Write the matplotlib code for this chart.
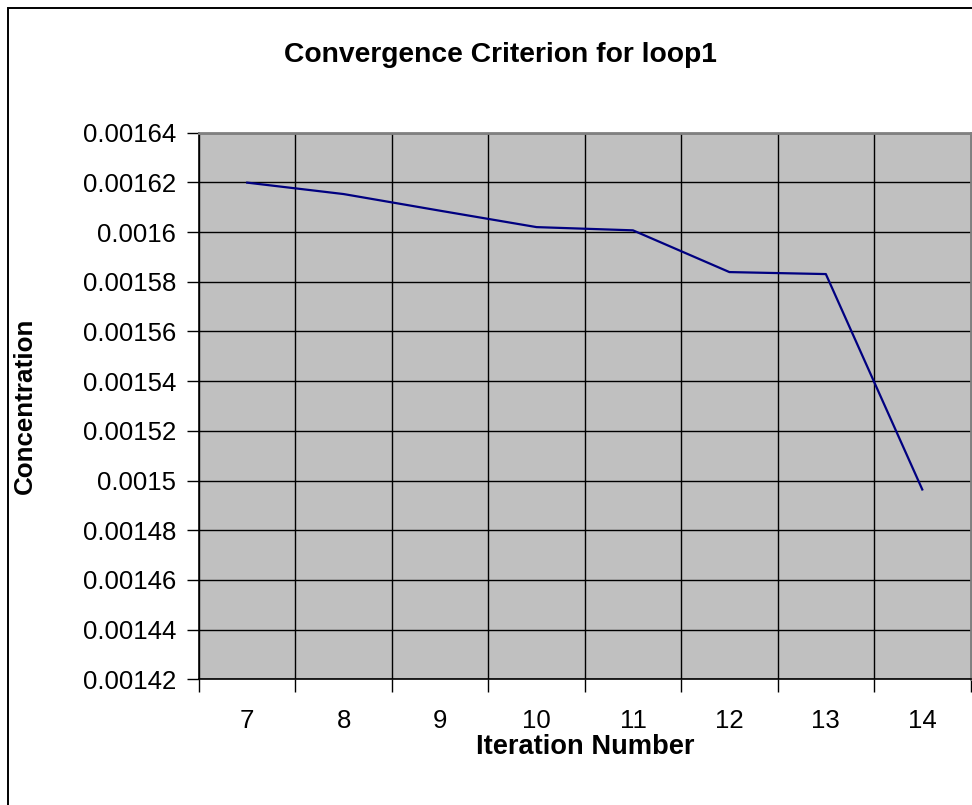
import matplotlib
matplotlib.use("Agg")
import matplotlib.pyplot as plt
from matplotlib.patches import Rectangle
from matplotlib.ticker import FixedLocator, FuncFormatter, NullFormatter

# Convergence history of the loop1 iteration
iterations = [7, 8, 9, 10, 11, 12, 13, 14]
concentration = [0.0016199, 0.0016153, 0.0016086, 0.0016020,
                  0.0016007, 0.0015839, 0.0015831, 0.0014964]
y_ticks = [0.00142, 0.00144, 0.00146, 0.00148, 0.0015, 0.00152,
           0.00154, 0.00156, 0.00158, 0.0016, 0.00162, 0.00164]

plt.rcParams['font.family'] = ['Liberation Sans', 'DejaVu Sans']

W, H = 972, 805
fig = plt.figure(figsize=(W / 100, H / 100), dpi=100)
fig.patch.set_facecolor('white')

# chart-area frame
fig.add_artist(Rectangle((8 / W, -0.5), 2.0, 1.5 - 8 / H,
                         transform=fig.transFigure, fill=False,
                         edgecolor='black', linewidth=1.4))

left, right, top, bottom = 199, 970.5, 132.7, 679.3
ax = fig.add_axes([left / W, 1 - bottom / H, (right - left) / W, (bottom - top) / H])
ax.set_facecolor('#C0C0C0')

pos = list(range(len(iterations)))
ax.plot(pos, concentration, color='#000080', linewidth=1.6, zorder=3)

ax.set_xlim(-0.5, len(iterations) - 0.5)
ax.set_ylim(y_ticks[0], y_ticks[-1])

# category axis: tick marks between categories, labels centred
bounds = [p - 0.5 for p in pos] + [pos[-1] + 0.5]
ax.xaxis.set_major_locator(FixedLocator(bounds))
ax.xaxis.set_major_formatter(NullFormatter())
ax.xaxis.set_minor_locator(FixedLocator(pos))
ax.xaxis.set_minor_formatter(FuncFormatter(lambda v, i: str(iterations[int(round(v))])))
ax.tick_params(axis='x', which='major', direction='out', length=9, width=1, color='black')
ax.tick_params(axis='x', which='minor', length=0, pad=21.5, labelsize=18.5)

ax.yaxis.set_major_locator(FixedLocator(y_ticks))
ax.yaxis.set_major_formatter(FuncFormatter(lambda v, i: f"{v:.5f}".rstrip('0')))
ax.tick_params(axis='y', direction='out', length=9, width=1, color='black',
               pad=7.5, labelsize=18.5)

ax.grid(True, which='major', color='black', linewidth=1.0, zorder=1)
ax.set_axisbelow(True)

for side in ('left', 'bottom'):
    ax.spines[side].set_color('black')
    ax.spines[side].set_linewidth(1.2)
for side in ('top', 'right'):
    ax.spines[side].set_color('#808080')
    ax.spines[side].set_linewidth(2.0)

fig.text(500 / W, 1 - 55 / H, 'Convergence Criterion for loop1',
         ha='center', va='center', fontsize=20.3, fontweight='bold')
fig.text((left + right) / 2 / W, 1 - 747 / H, 'Iteration Number',
         ha='center', va='center', fontsize=19.6, fontweight='bold')
fig.text(25 / W, 1 - (top + bottom) / 2 / H, 'Concentration', rotation=90,
         ha='center', va='center', fontsize=18.7, fontweight='bold')

fig.savefig('out.png', dpi=100)
